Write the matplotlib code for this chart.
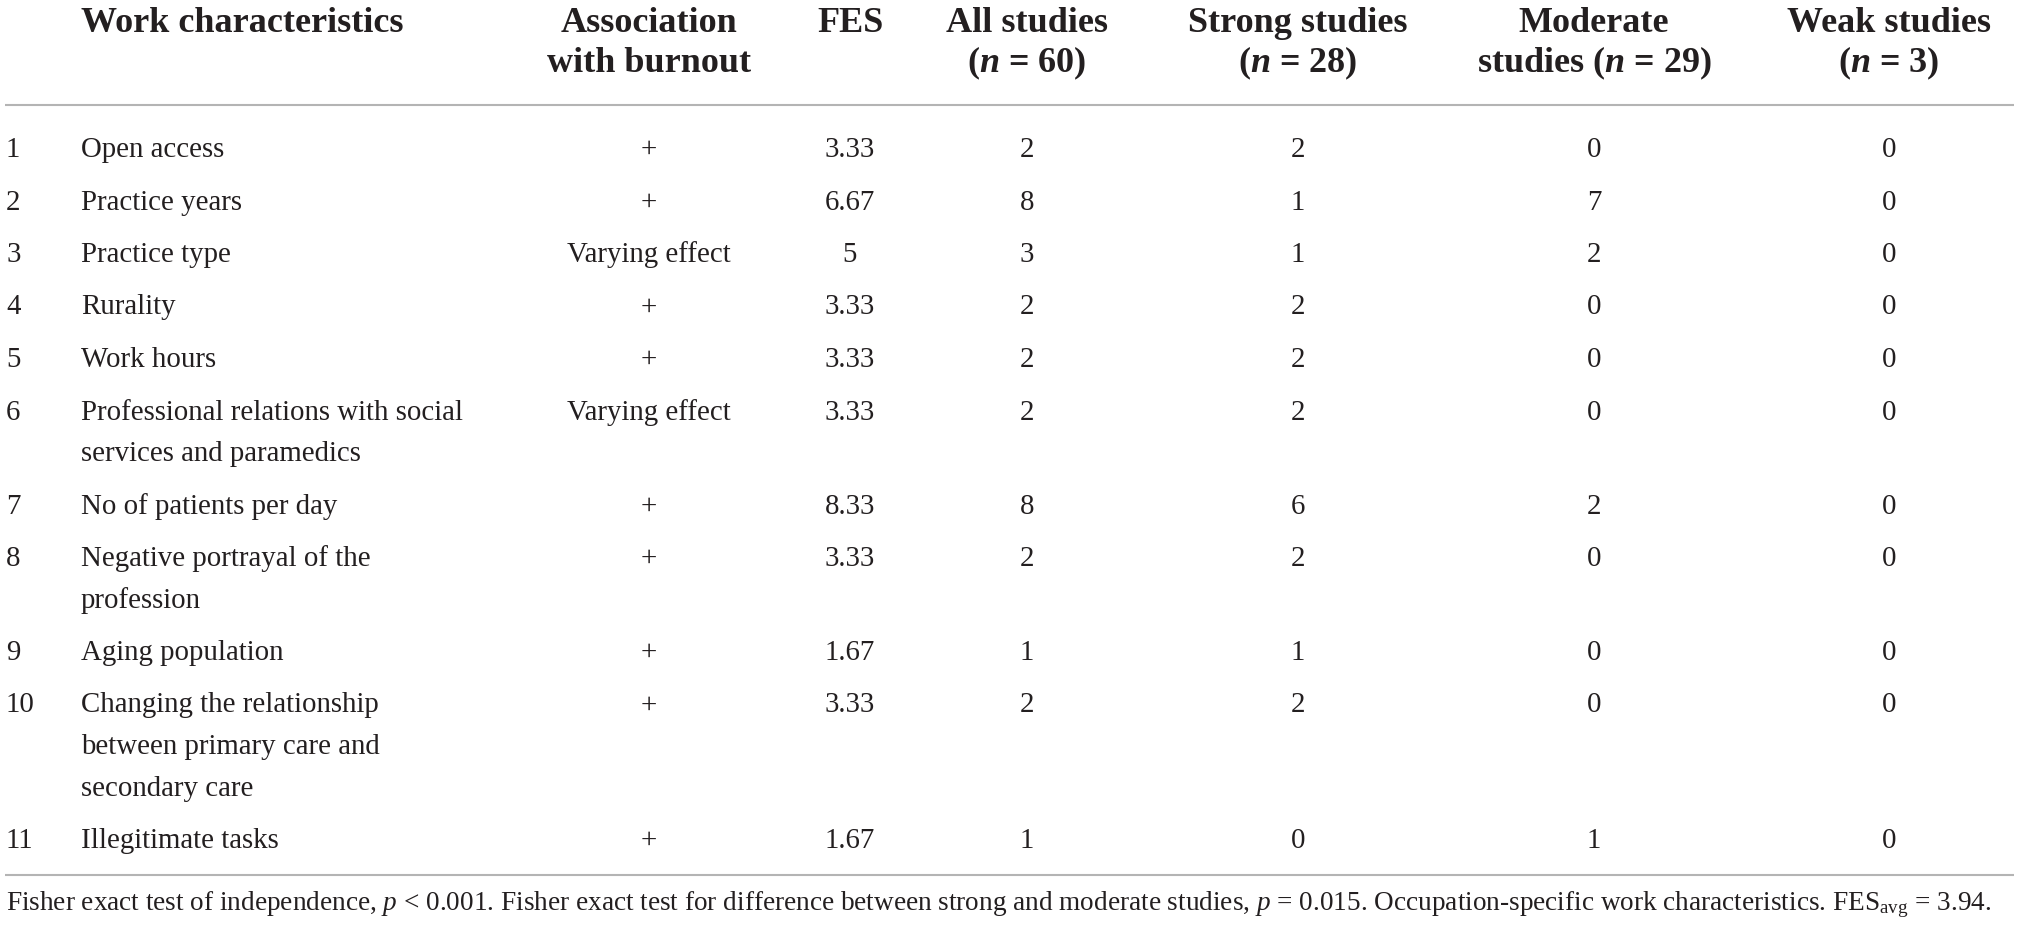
import matplotlib
matplotlib.use("Agg")
import matplotlib.pyplot as plt

# table content
numbers = ["1", "2", "3", "4", "5", "6", "7", "8", "9", "10", "11"]
characteristics = [
    "Open access",
    "Practice years",
    "Practice type",
    "Rurality",
    "Work hours",
    "Professional relations with social\nservices and paramedics",
    "No of patients per day",
    "Negative portrayal of the\nprofession",
    "Aging population",
    "Changing the relationship\nbetween primary care and\nsecondary care",
    "Illegitimate tasks",
]
association = ["+", "+", "Varying effect", "+", "+", "Varying effect",
               "+", "+", "+", "+", "+"]
fes = [3.33, 6.67, 5, 3.33, 3.33, 3.33, 8.33, 3.33, 1.67, 3.33, 1.67]
all_studies = [2, 8, 3, 2, 2, 2, 8, 2, 1, 2, 1]
strong = [2, 1, 1, 2, 2, 2, 6, 2, 1, 2, 0]
moderate = [0, 7, 2, 0, 0, 0, 2, 0, 0, 0, 1]
weak = [0, 0, 0, 0, 0, 0, 0, 0, 0, 0, 0]

headers = [
    ("Work characteristics", ""),
    ("Association", "with burnout"),
    ("FES", ""),
    ("All studies", "($\\mathbfit{n}$ = 60)"),
    ("Strong studies", "($\\mathbfit{n}$ = 28)"),
    ("Moderate", "studies ($\\mathbfit{n}$ = 29)"),
    ("Weak studies", "($\\mathbfit{n}$ = 3)"),
]
footnote = ("Fisher exact test of independence, $p$ < 0.001. Fisher exact test for "
            "difference between strong and moderate studies, $p$ = 0.015. "
            "Occupation-specific work characteristics. FES$_{\\mathrm{avg}}$ = 3.94.")

plt.rcParams["font.family"] = ["Liberation Serif", "DejaVu Serif"]
plt.rcParams["mathtext.fontset"] = "custom"
plt.rcParams["mathtext.rm"] = "Liberation Serif"
plt.rcParams["mathtext.it"] = "Liberation Serif:italic"
plt.rcParams["mathtext.bf"] = "Liberation Serif:bold"
plt.rcParams["mathtext.bfit"] = "Liberation Serif:italic:bold"

W, H = 2019, 931
fig = plt.figure(figsize=(W / 100, H / 100), dpi=100)
ax = fig.add_axes([0, 0, 1, 1])
ax.set_xlim(0, W)
ax.set_ylim(H, 0)
ax.axis("off")

ink = "#231f20"
rule = "#b4b4b4"
body_fs = 20.8
head_fs = 26

num_x = 6
text_x = 81
col_x = [649, 850, 1027, 1298, 1594, 1889]

# header
ax.text(text_x, 32, headers[0][0], ha="left", va="baseline",
        fontsize=head_fs, fontweight="bold", color=ink)
for cx, (l1, l2) in zip(col_x, headers[1:]):
    ax.text(cx, 32, l1, ha="center", va="baseline",
            fontsize=head_fs, fontweight="bold", color=ink)
    if l2:
        ax.text(cx, 72, l2, ha="center", va="baseline",
                fontsize=head_fs, fontweight="bold", color=ink)

ax.plot([5, 2014], [105, 105], color=rule, lw=1.5, solid_capstyle="butt")

# body rows
line_gap = 41.5
row_gap = 52.5
y = 157
for i in range(len(numbers)):
    lines = characteristics[i].split("\n")
    ax.text(num_x, y, numbers[i], ha="left", va="baseline",
            fontsize=body_fs, color=ink)
    for k, ln in enumerate(lines):
        ax.text(text_x, y + k * line_gap, ln, ha="left", va="baseline",
                fontsize=body_fs, color=ink)
    vals = [association[i], f"{fes[i]:g}", str(all_studies[i]),
            str(strong[i]), str(moderate[i]), str(weak[i])]
    for cx, v in zip(col_x, vals):
        ax.text(cx, y, v, ha="center", va="baseline",
                fontsize=body_fs, color=ink)
    y += (len(lines) - 1) * line_gap + row_gap

ax.plot([5, 2014], [875, 875], color=rule, lw=1.5, solid_capstyle="butt")

ax.text(6, 910, footnote, ha="left", va="baseline", fontsize=19.6, color=ink)

fig.savefig("out.png", dpi=100, facecolor="white")
